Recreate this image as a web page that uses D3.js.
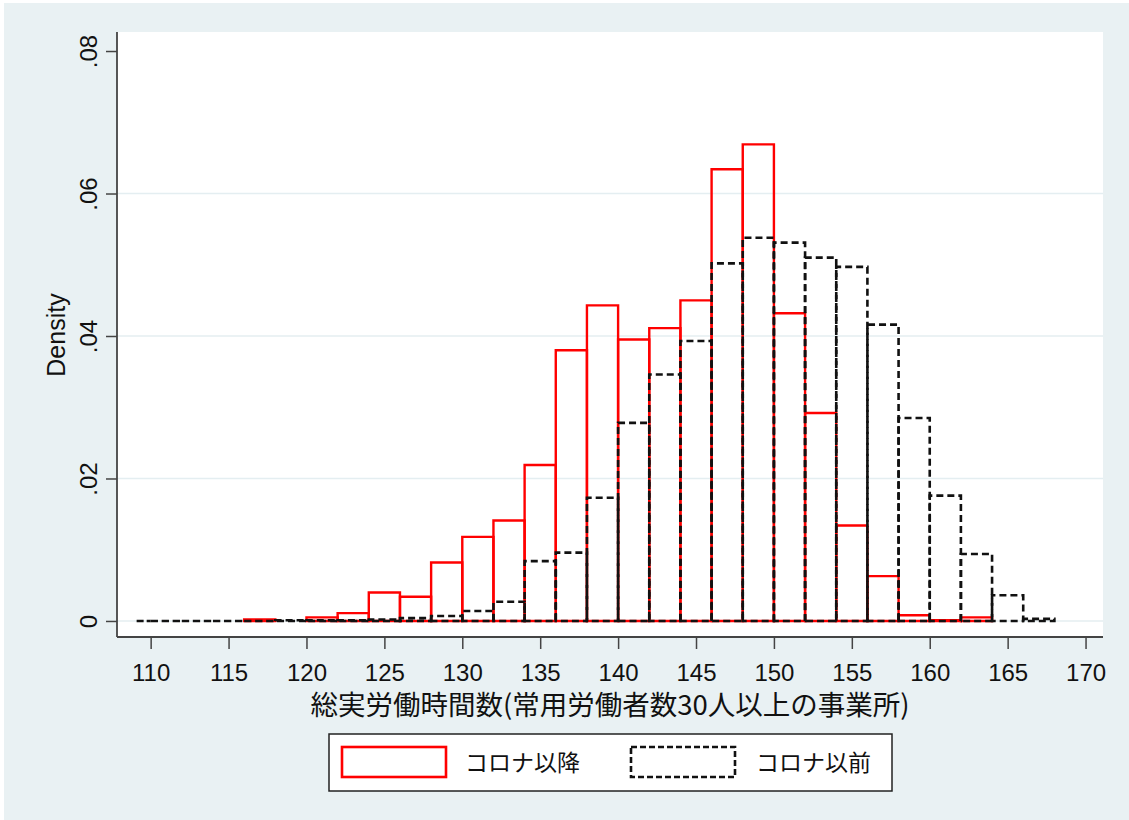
<!DOCTYPE html>
<html>
<head>
<meta charset="utf-8">
<script src="https://cdn.jsdelivr.net/npm/d3@7"></script>
<style>
  html, body { margin: 0; padding: 0; background: #ffffff; }
  svg { display: block; }
</style>
</head>
<body>
<svg id="chart" width="1129" height="820"></svg>
<script>
// ---- data ----
// bin lower edges, width 2 (null = no bar drawn)
const redEdges = [116, 118, 120, 122, 124, 126, 128, 130, 132, 134, 136, 138, 140, 142, 144, 146, 148, 150, 152, 154, 156, 158, 160, 162, 164];
const redDensity = [0.0002, null, 0.0005, 0.0011, 0.0040, 0.0034, 0.0082, 0.0118, 0.0141, 0.0219, 0.0380, 0.0443, 0.0395, 0.0411, 0.0450, 0.0634, 0.0669, 0.0432, 0.0292, 0.0134, 0.0063, 0.0008, 0.0001, 0.0005];

const blackEdges = [109.1, 110, 112, 114, 116, 118, 120, 122, 124, 126, 128, 130, 132, 134, 136, 138, 140, 142, 144, 146, 148, 150, 152, 154, 156, 158, 160, 162, 164, 166, 168];
const blackDensity = [0, 0, 0, 0, 0, 0.0001, 0.0001, 0.0001, 0.0002, 0.0004, 0.0007, 0.0014, 0.0027, 0.0084, 0.0096, 0.0173, 0.0278, 0.0346, 0.0393, 0.0502, 0.0538, 0.0531, 0.0510, 0.0497, 0.0416, 0.0285, 0.0176, 0.0094, 0.0036, 0.0003];

const xTicks = [110, 115, 120, 125, 130, 135, 140, 145, 150, 155, 160, 165, 170];
const yTicks = [0, 0.02, 0.04, 0.06, 0.08];
const yTickLabels = ["0", ".02", ".04", ".06", ".08"];
const xTitle = "総実労働時間数(常用労働者数30人以上の事業所)";
const yTitle = "Density";
const seriesNames = ["コロナ以降", "コロナ以前"];

// ---- layout ----
const W = 1129, H = 820;
const plot = { left: 117, right: 1103, top: 32, bottom: 637 };
const bg = "#e9f1f3";
const numFont = "'Liberation Sans', Arial, sans-serif";
const cjkFont = "'Noto Sans CJK JP', 'Noto Sans', sans-serif";

const svg = d3.select("#chart");
svg.append("rect").attr("x", 4).attr("y", 3).attr("width", W - 4).attr("height", H - 3).attr("fill", bg);
svg.append("rect")
  .attr("x", plot.left).attr("y", plot.top)
  .attr("width", plot.right - plot.left).attr("height", plot.bottom - plot.top)
  .attr("fill", "#ffffff");

const x = d3.scaleLinear().domain([107.84, 171.12]).range([plot.left, plot.right]);
const y = d3.scaleLinear().domain([-0.00225, 0.08267]).range([plot.bottom, plot.top]);

// gridlines
svg.append("g").selectAll("line")
  .data(yTicks.filter(d => d < 0.07))
  .join("line")
  .attr("x1", plot.left).attr("x2", plot.right)
  .attr("y1", d => y(d)).attr("y2", d => y(d))
  .attr("stroke", "#e4eef1").attr("stroke-width", 1.5);

function barPath(x0, x1, v) {
  const X0 = x(x0), X1 = x(x1), Y0 = y(0), Y1 = y(v);
  return `M${X0},${Y0}V${Y1}H${X1}V${Y0}Z`;
}

// red bars (コロナ以降)
const redBins = redDensity.map((v, i) => ({ x0: redEdges[i], x1: redEdges[i + 1], v })).filter(d => d.v !== null);
svg.append("g").selectAll("path")
  .data(redBins)
  .join("path")
  .attr("d", d => barPath(d.x0, d.x1, d.v))
  .attr("fill", "none")
  .attr("stroke", "#ff0000")
  .attr("stroke-width", 2.4);

// black dashed bars (コロナ以前)
const blackBins = blackDensity.map((v, i) => ({ x0: blackEdges[i], x1: blackEdges[i + 1], v }));
svg.append("g").selectAll("path")
  .data(blackBins)
  .join("path")
  .attr("d", d => barPath(d.x0, d.x1, d.v))
  .attr("fill", "none")
  .attr("stroke", "#111111")
  .attr("stroke-width", 2.6)
  .attr("stroke-dasharray", "7,4");

// y axis
const yAxis = d3.axisLeft(y).tickValues(yTicks).tickSize(11).tickFormat((d, i) => yTickLabels[i]);
const gy = svg.append("g").attr("transform", `translate(${plot.left},0)`).call(yAxis);
gy.select(".domain").attr("d", `M0,${plot.top}V${plot.bottom}`).attr("stroke", "#444").attr("stroke-width", 1.8);
gy.selectAll(".tick line").attr("stroke", "#444").attr("stroke-width", 1.5);
gy.selectAll(".tick text")
  .attr("transform", "rotate(-90)")
  .attr("x", 0).attr("y", -20.5).attr("dy", 0)
  .attr("text-anchor", "middle")
  .attr("fill", "#111")
  .style("font-family", numFont).style("font-size", "24px");

// x axis
const xAxis = d3.axisBottom(x).tickValues(xTicks).tickSize(12).tickFormat(d3.format("d"));
const gx = svg.append("g").attr("transform", `translate(0,${plot.bottom})`).call(xAxis);
gx.select(".domain").attr("d", `M${plot.left},0H${plot.right}`).attr("stroke", "#444").attr("stroke-width", 1.8);
gx.selectAll(".tick line").attr("stroke", "#444").attr("stroke-width", 1.5);
gx.selectAll(".tick text")
  .attr("y", 43.5).attr("dy", 0)
  .attr("fill", "#111")
  .style("font-family", numFont).style("font-size", "24px");

// axis titles
svg.append("text")
  .attr("transform", `translate(65,335) rotate(-90)`)
  .attr("text-anchor", "middle")
  .attr("fill", "#111")
  .style("font-family", numFont).style("font-size", "25px")
  .text(yTitle);

svg.append("text")
  .attr("x", (plot.left + plot.right) / 2).attr("y", 715)
  .attr("text-anchor", "middle")
  .attr("fill", "#111")
  .style("font-family", cjkFont).style("font-size", "27.5px")
  .text(xTitle);

// legend
const lg = svg.append("g");
lg.append("rect").attr("x", 329).attr("y", 734).attr("width", 563).attr("height", 57)
  .attr("fill", "#ffffff").attr("stroke", "#222").attr("stroke-width", 1.5);
const legendItems = [
  { name: seriesNames[0], sx: 342, tx: 465, stroke: "#ff0000", dash: null },
  { name: seriesNames[1], sx: 631, tx: 756, stroke: "#111111", dash: "6,3" }
];
legendItems.forEach(it => {
  lg.append("rect").attr("x", it.sx).attr("y", 747).attr("width", 104).attr("height", 30)
    .attr("fill", "#ffffff").attr("stroke", it.stroke).attr("stroke-width", 2.6)
    .attr("stroke-dasharray", it.dash);
  lg.append("text").attr("x", it.tx).attr("y", 771)
    .attr("fill", "#111")
    .style("font-family", cjkFont).style("font-size", "23px")
    .text(it.name);
});
</script>
</body>
</html>
